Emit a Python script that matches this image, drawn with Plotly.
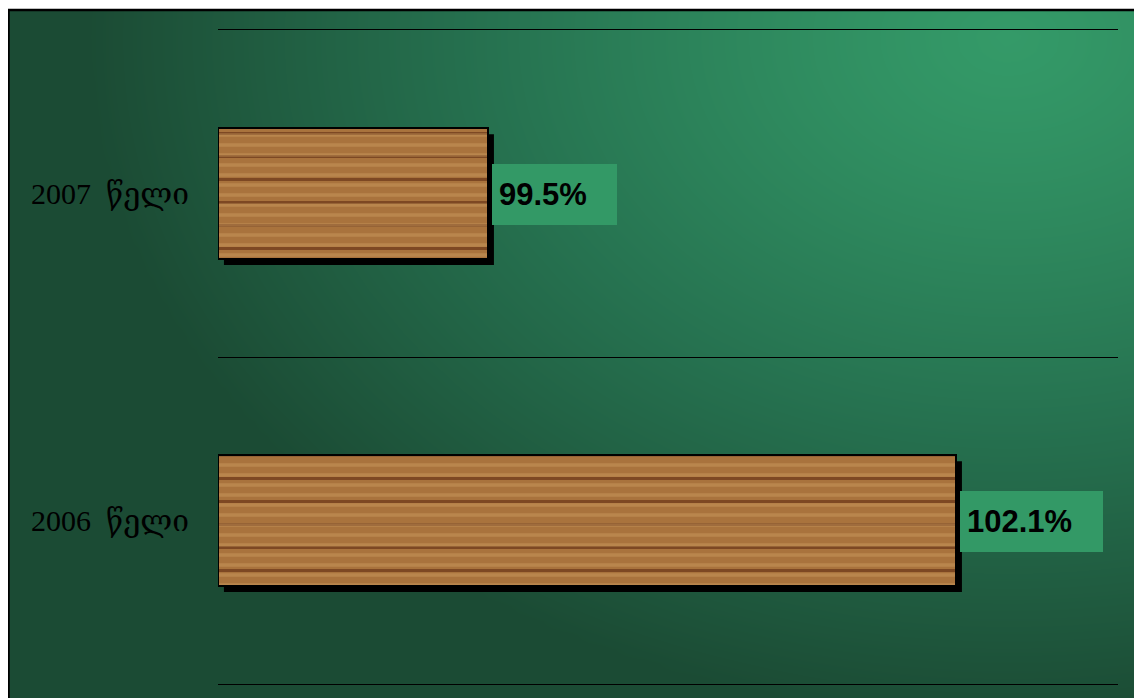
import numpy as np
import plotly.graph_objects as go

# ---- data ----
categories = ["2007  წელი", "2006  წელი"]
values = [99.5, 102.1]
labels = ["99.5%", "102.1%"]
x_min, x_max = 98, 103

W, H = 1142, 698

# ---- background gradient (style only) ----
nx, ny = 80, 50
gx = np.linspace(0, W, nx)
gy = np.linspace(0, H, ny)
GX, GY = np.meshgrid(gx, gy)
t = np.sqrt(((GX - 1000) / 920) ** 2 + ((GY - 30) / 680) ** 2)
bgz = 1 - np.clip(t, 0, 1) ** 1.2

fig = go.Figure()
fig.add_trace(go.Heatmap(
    x=gx, y=gy, z=bgz, zmin=0, zmax=1, zsmooth="best",
    colorscale=[[0, "#1b4b34"], [0.5, "#267250"], [1, "#349a68"]],
    showscale=False, hoverinfo="skip", xaxis="x", yaxis="y"))

BAR_W = 0.4
SH_DX = 0.033   # shadow shift (axis units)
SH_DY = 0.019   # shadow shift (category units)
lengths = [v - x_min for v in values]

# shadow
fig.add_trace(go.Bar(
    y=categories, x=lengths, base=x_min + SH_DX, orientation="h",
    width=BAR_W, offset=-BAR_W / 2 + SH_DY,
    marker=dict(color="#000000", line=dict(width=0)),
    hoverinfo="skip", xaxis="x2", yaxis="y2"))

# wood bars (base + dark grain)
fig.add_trace(go.Bar(
    y=categories, x=lengths, base=x_min, orientation="h",
    width=BAR_W, offset=-BAR_W / 2,
    marker=dict(color="#a9733d",
                line=dict(color="#000000", width=0),
                pattern=dict(shape="-", fgcolor="#5e2a12", fgopacity=0.6,
                             size=23, solidity=0.13)),
    xaxis="x2", yaxis="y2"))
# light grain overlay + outline
fig.add_trace(go.Bar(
    y=categories, x=lengths, base=x_min, orientation="h",
    width=BAR_W, offset=-BAR_W / 2,
    marker=dict(color="rgba(0,0,0,0)",
                line=dict(color="#000000", width=2),
                pattern=dict(shape="-", fgcolor="#d2a262", fgopacity=0.4,
                             bgcolor="rgba(0,0,0,0)",
                             size=10, solidity=0.35)),
    hoverinfo="skip", xaxis="x2", yaxis="y2"))

annotations = []
for c, v, lab in zip(categories, values, labels):
    annotations.append(dict(
        x=v, y=c, xref="x2", yref="y2", text=lab, showarrow=False,
        xanchor="left", yanchor="middle", xshift=4, yshift=-1,
        align="left", bgcolor="#339966", borderpad=7, borderwidth=0,
        width=18 * len(lab) + 35 - 14, height=47,
        font=dict(family="Liberation Sans, Arial", size=31, color="#000000",
                  weight="bold")))

fig.update_layout(
    width=W, height=H, autosize=False,
    margin=dict(l=0, r=0, t=0, b=0),
    paper_bgcolor="#ffffff", plot_bgcolor="rgba(0,0,0,0)",
    showlegend=False, barmode="overlay",
    xaxis=dict(domain=[0, 1133 / W], range=[0, 1133], visible=False,
               showgrid=False, fixedrange=True),
    yaxis=dict(domain=[0, 1 - 2 / H], range=[H, 2], visible=False,
               showgrid=False, fixedrange=True),
    xaxis2=dict(domain=[210 / W, 1110 / W], range=[x_min, x_max],
                anchor="y2", showgrid=False, zeroline=False,
                showticklabels=False, showline=True, mirror=True,
                linecolor="#000000", linewidth=1, ticks=""),
    yaxis2=dict(domain=[1 - 676 / H, 1 - 22 / H], range=[1.5, -0.5],
                anchor="x2", type="category", tickson="boundaries",
                showgrid=True, gridcolor="#000000", gridwidth=1,
                showline=False, ticks="", ticklabelstandoff=28,
                tickfont=dict(family="Liberation Serif, DejaVu Serif, serif",
                              size=30, color="#000000")),
    annotations=annotations,
    shapes=[dict(type="rect", xref="paper", yref="paper",
                 x0=0.5 / W, x1=1133 / W, y0=-0.01, y1=1 - 2 / H,
                 line=dict(color="#000000", width=2.5), layer="above")],
)

fig.write_html("out.html")
